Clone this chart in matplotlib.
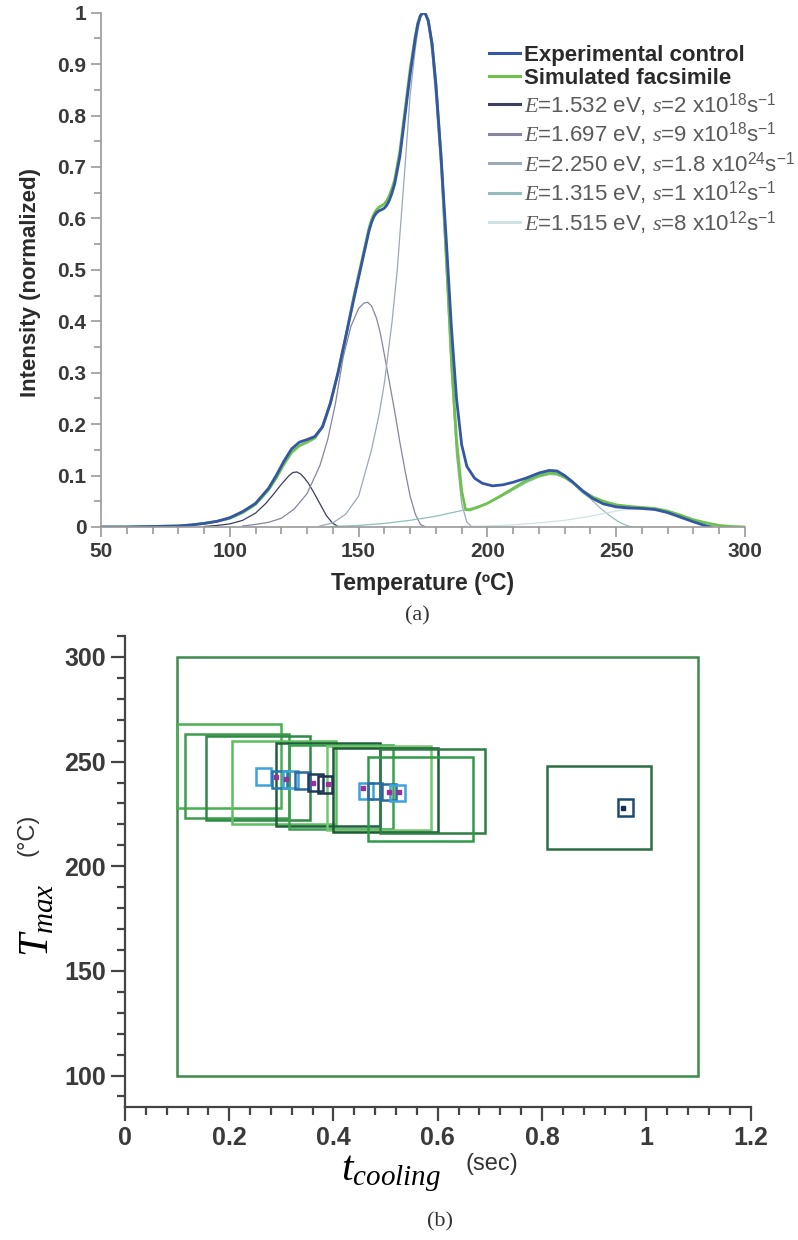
import numpy as np
import matplotlib
matplotlib.use("Agg")
import matplotlib.pyplot as plt
from matplotlib.patches import Rectangle
from matplotlib.ticker import MultipleLocator, FormatStrFormatter

plt.rcParams['font.family'] = ['Liberation Sans', 'DejaVu Sans']
plt.rcParams['mathtext.fontset'] = 'custom'
plt.rcParams['mathtext.rm'] = 'Liberation Sans'
plt.rcParams['mathtext.it'] = 'Liberation Serif:italic'
plt.rcParams['mathtext.bf'] = 'Liberation Sans:bold'

# ---- (a) glow curves ----
exp_T = [50, 60, 70, 80, 85, 90, 95, 100, 105, 110, 115, 118, 121, 124, 127, 130, 133, 136, 139, 142,
         145, 148, 150, 152, 154, 155, 156, 157, 158, 159, 160, 161, 162, 163, 164, 166, 168, 170, 172,
         173, 174, 175, 176, 177, 178.5, 180, 182, 184, 186, 188, 190, 192, 195, 198, 202, 206, 210,
         215, 220, 224, 227, 230, 233, 237, 241, 245, 250, 255, 260, 265, 270, 275, 280, 285, 287]
exp_I = [0, 0, 0.001, 0.002, 0.004, 0.007, 0.011, 0.018, 0.03, 0.046, 0.075, 0.1, 0.128, 0.152, 0.165,
         0.17, 0.176, 0.195, 0.24, 0.3, 0.37, 0.44, 0.485, 0.53, 0.575, 0.592, 0.604, 0.611, 0.615,
         0.617, 0.62, 0.626, 0.636, 0.65, 0.667, 0.72, 0.8, 0.88, 0.95, 0.978, 0.994, 1.0, 0.997, 0.985,
         0.94, 0.86, 0.72, 0.56, 0.39, 0.25, 0.16, 0.118, 0.095, 0.085, 0.08, 0.082, 0.087, 0.095,
         0.105, 0.11, 0.109, 0.1, 0.088, 0.07, 0.055, 0.045, 0.039, 0.037, 0.036, 0.034, 0.028, 0.019,
         0.01, 0.002, 0]

sim_T = [50, 60, 70, 80, 85, 90, 95, 100, 105, 110, 115, 118, 121, 124, 127, 130, 133, 136, 139, 142,
         145, 148, 150, 152, 154, 155, 156, 157, 158, 159, 160, 161, 162, 163, 164, 166, 168, 170, 172,
         173, 174, 175, 176, 177, 178.5, 180, 182, 184, 186, 188, 190, 191.5, 193, 196, 200, 205, 210,
         215, 220, 224, 227, 230, 233, 237, 241, 245, 250, 255, 260, 265, 270, 275, 280, 285, 290, 295,
         300]
sim_I = [0, 0, 0.001, 0.002, 0.004, 0.007, 0.011, 0.017, 0.028, 0.044, 0.072, 0.095, 0.122, 0.145,
         0.158, 0.165, 0.173, 0.195, 0.24, 0.3, 0.37, 0.445, 0.49, 0.535, 0.58, 0.597, 0.609, 0.617,
         0.622, 0.625, 0.628, 0.635, 0.645, 0.659, 0.675, 0.73, 0.81, 0.89, 0.955, 0.98, 0.995, 1.0,
         0.997, 0.985, 0.94, 0.86, 0.72, 0.53, 0.33, 0.17, 0.07, 0.034, 0.033, 0.038, 0.046, 0.06, 0.075,
         0.09, 0.1, 0.105, 0.104, 0.097, 0.087, 0.07, 0.058, 0.05, 0.043, 0.04, 0.038, 0.036, 0.031,
         0.023, 0.014, 0.008, 0.003, 0.001, 0]

p1_T = [90, 95, 100, 105, 110, 114, 117, 120, 123, 124.5, 126, 127.5, 129, 130.5, 132.5, 135, 137.5,
        140, 142, 144]
p1_I = [0.001, 0.003, 0.006, 0.013, 0.027, 0.046, 0.064, 0.083, 0.1, 0.106, 0.107, 0.103, 0.095, 0.085,
        0.068, 0.045, 0.022, 0.007, 0.001, 0]

p2_T = [105, 110, 115, 120, 125, 130, 135, 138, 141, 144, 147, 150, 152, 153.5, 155, 157, 158.5, 160,
        162, 164, 166, 168, 170, 172, 174, 176]
p2_I = [0.002, 0.005, 0.009, 0.017, 0.035, 0.065, 0.12, 0.17, 0.24, 0.33, 0.39, 0.425, 0.435, 0.437,
        0.43, 0.405, 0.375, 0.335, 0.28, 0.225, 0.165, 0.11, 0.06, 0.025, 0.005, 0]

p3_T = [135, 140, 145, 150, 155, 158, 160, 163, 165, 168, 170, 172, 173, 174, 175, 176, 177, 178.5,
        180, 182, 184, 186, 188, 190, 192, 194]
p3_I = [0.002, 0.008, 0.025, 0.06, 0.15, 0.22, 0.28, 0.4, 0.5, 0.7, 0.84, 0.93, 0.965, 0.99, 1.0, 0.997,
        0.98, 0.92, 0.83, 0.69, 0.5, 0.3, 0.14, 0.045, 0.01, 0]

p4_T = [140, 150, 160, 170, 180, 190, 195, 200, 205, 210, 215, 220, 224, 227, 230, 233, 237, 240,
        244, 248, 251, 254, 256]
p4_I = [0.001, 0.003, 0.007, 0.013, 0.021, 0.032, 0.038, 0.046, 0.058, 0.072, 0.086, 0.097, 0.102,
        0.101, 0.095, 0.085, 0.066, 0.055, 0.036, 0.02, 0.01, 0.003, 0]

p5_T = [190, 200, 210, 220, 230, 240, 245, 250, 255, 260, 265, 270, 275, 280, 285, 290, 295]
p5_I = [0.001, 0.002, 0.004, 0.008, 0.013, 0.021, 0.026, 0.031, 0.035, 0.037, 0.036, 0.031, 0.023,
        0.014, 0.006, 0.002, 0]

peak_labels = [r'$E$=1.532 eV, $s$=2 x10$^{18}$s$^{-1}$',
               r'$E$=1.697 eV, $s$=9 x10$^{18}$s$^{-1}$',
               r'$E$=2.250 eV, $s$=1.8 x10$^{24}$s$^{-1}$',
               r'$E$=1.315 eV, $s$=1 x10$^{12}$s$^{-1}$',
               r'$E$=1.515 eV, $s$=8 x10$^{12}$s$^{-1}$']

# ---- (b) search boxes ----
search_x = (0.1, 1.1)
search_y = (100, 300)
coarse_x = [0.200, 0.215, 0.255, 0.305, 0.390, 0.414, 0.487, 0.500, 0.590, 0.567, 0.910]
coarse_y = [248, 243, 242, 240, 239, 238, 237.5, 236.5, 236, 232, 228]
coarse_w, coarse_h = 0.2, 40
fine_x = [0.266, 0.296, 0.318, 0.340, 0.365, 0.384, 0.462, 0.480, 0.505, 0.523, 0.960]
fine_y = [243, 241.6, 241.5, 241, 240, 239, 236, 236, 235.5, 235, 228]
fine_w, fine_h = 0.028, 8
best_x = [0.289, 0.309, 0.360, 0.389, 0.456, 0.507, 0.526, 0.955]
best_y = [242.6, 241.6, 239.7, 239.2, 237.3, 235.6, 235.4, 228]

coarse_colors = ['#4aae52', '#3f9c4c', '#2f8a45', '#5cbf5e', '#1f5e3a', '#3aa04e', '#74c76a',
                 '#1d5b37', '#2e7d44', '#2f9a48', '#2c6e45']
fine_colors = ['#3da3d9', '#2477b5', '#3da3d9', '#2a6aa0', '#1e3d5c', '#1e3350', '#3da3d9',
               '#2a6aa0', '#2a6aa0', '#3da3d9', '#1e4a6e']

tick_col = '#3a3a3a'
fig = plt.figure(figsize=(7.98, 12.4), dpi=100)

# ---------------- (a) ----------------
ax = fig.add_axes([0.1266, 0.575, 0.807, 0.4148])
ax.plot(p1_T, p1_I, color='#3b3f5e', lw=0.9, label=peak_labels[0])
ax.plot(p2_T, p2_I, color='#8585a0', lw=0.9, label=peak_labels[1])
ax.plot(p3_T, p3_I, color='#9aa8b8', lw=0.9, label=peak_labels[2])
ax.plot(p4_T, p4_I, color='#93bcbc', lw=0.9, label=peak_labels[3])
ax.plot(p5_T, p5_I, color='#cfe3e3', lw=0.9, label=peak_labels[4])
ax.plot(sim_T, sim_I, color='#6cc24a', lw=2.0, label='Simulated facsimile')
ax.plot(exp_T, exp_I, color='#3555a5', lw=2.0, label='Experimental control')
ax.set_xlim(50, 300)
ax.set_ylim(0, 1)
for s in ['top', 'right']:
    ax.spines[s].set_visible(False)
for s in ['left', 'bottom']:
    ax.spines[s].set_color('#9a9a9a')
    ax.spines[s].set_linewidth(1.2)
ax.xaxis.set_major_locator(MultipleLocator(50))
ax.xaxis.set_minor_locator(MultipleLocator(10))
ax.yaxis.set_major_locator(MultipleLocator(0.1))
ax.yaxis.set_minor_locator(MultipleLocator(0.05))
ax.yaxis.set_major_formatter(FormatStrFormatter('%g'))
ax.tick_params(which='both', color='#9a9a9a', width=1.2, labelcolor=tick_col)
ax.tick_params(which='major', length=7, labelsize=15)
ax.tick_params(which='minor', length=5)
for lab in ax.get_xticklabels() + ax.get_yticklabels():
    lab.set_fontweight('bold')
ax.set_xlabel('Temperature (ºC)', fontsize=16.5, fontweight='bold', color='#2a2a2a', labelpad=8)
ax.set_ylabel('Intensity (normalized)', fontsize=16, fontweight='bold', color='#2a2a2a')
ax.yaxis.set_label_coords(-0.093, 0.475)

h, l = ax.get_legend_handles_labels()
order = [6, 5, 0, 1, 2, 3, 4]
leg = ax.legend([h[i] for i in order], [l[i] for i in order], loc='upper left',
                bbox_to_anchor=(0.602, 0.937), frameon=False, fontsize=16, handlelength=1.4,
                handletextpad=0.2, labelspacing=0.09, borderaxespad=0, borderpad=0)
for i, t in enumerate(leg.get_texts()):
    if i < 2:
        t.set_fontweight('bold')
        t.set_color('#2a2a2a')
    else:
        t.set_color('#5a5a5a')
for line in leg.get_lines():
    line.set_linewidth(2.2)

fig.text(0.523, 0.503, '(a)', fontsize=16, family='Liberation Serif', ha='center', va='center',
         color='#333333')

# ---------------- (b) ----------------
bx = fig.add_axes([0.1566, 0.1073, 0.7839, 0.3798])
bx.add_patch(Rectangle((search_x[0], search_y[0]), search_x[1] - search_x[0], search_y[1] - search_y[0],
                       fill=False, ec='#3d8a4c', lw=1.8))
for cx, cy, c in zip(coarse_x, coarse_y, coarse_colors):
    bx.add_patch(Rectangle((cx - coarse_w / 2, cy - coarse_h / 2), coarse_w, coarse_h,
                           fill=False, ec=c, lw=1.8))
for cx, cy, c in zip(fine_x, fine_y, fine_colors):
    bx.add_patch(Rectangle((cx - fine_w / 2, cy - fine_h / 2), fine_w, fine_h,
                           fill=False, ec=c, lw=1.8))
bx.plot(best_x[:-1], best_y[:-1], ls='none', marker='s', ms=3, color='#9a2f9e')
bx.plot(best_x[-1:], best_y[-1:], ls='none', marker='s', ms=3, color='#1e2a4a')

bx.set_xlim(0, 1.2)
bx.set_ylim(85, 310)
for s in ['top', 'right']:
    bx.spines[s].set_visible(False)
for s in ['left', 'bottom']:
    bx.spines[s].set_color('#444444')
    bx.spines[s].set_linewidth(1.6)
bx.xaxis.set_major_locator(MultipleLocator(0.2))
bx.xaxis.set_minor_locator(MultipleLocator(0.04))
bx.yaxis.set_major_locator(MultipleLocator(50))
bx.yaxis.set_minor_locator(MultipleLocator(10))
bx.xaxis.set_major_formatter(FormatStrFormatter('%g'))
bx.tick_params(which='both', color='#444444', width=1.6, labelcolor=tick_col)
bx.tick_params(which='major', length=10, labelsize=18)
bx.tick_params(which='minor', length=6)
for lab in bx.get_xticklabels() + bx.get_yticklabels():
    lab.set_fontweight('bold')

fig.text(0.047, 0.258, r'$T_{max}$', fontsize=30, rotation=90, ha='center', va='center')
fig.text(0.034, 0.327, '(°C)', fontsize=17, rotation=90, ha='center', va='center', color='#333333')
fig.text(0.490, 0.053, r'$t_{cooling}$', fontsize=30, ha='center', va='center')
fig.text(0.617, 0.061, '(sec)', fontsize=17, ha='center', va='center', color='#333333')
fig.text(0.551, 0.015, '(b)', fontsize=16, family='Liberation Serif', ha='center', va='center',
         color='#333333')

fig.savefig('out.png', dpi=100)
